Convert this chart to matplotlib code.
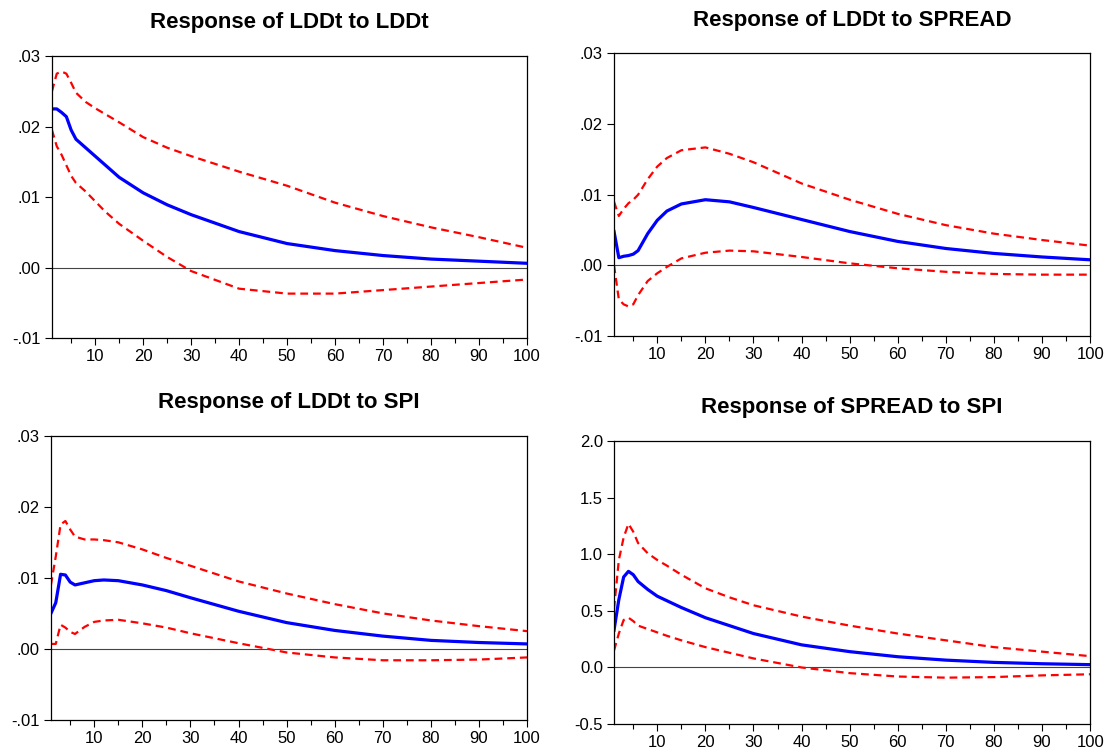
import numpy as np
import matplotlib.pyplot as plt
from matplotlib.ticker import FixedLocator, FuncFormatter

plt.rcParams['font.family'] = ['Liberation Sans', 'DejaVu Sans']

# periods used for the readings
per = [1, 2, 3, 4, 5, 6, 8, 10, 12, 15, 20, 25, 30, 40, 50, 60, 70, 80, 90, 100]

# Response of LDDt to LDDt
lddt_lddt = [0.0225, 0.0225, 0.0220, 0.0214, 0.0195, 0.0182, 0.0170, 0.0158, 0.0146, 0.0128, 0.0106, 0.0089, 0.0075, 0.0051, 0.0034, 0.0024, 0.0017, 0.0012, 0.0009, 0.0006]
lddt_lddt_hi = [0.0250, 0.0275, 0.0278, 0.0275, 0.0262, 0.0248, 0.0235, 0.0226, 0.0218, 0.0206, 0.0185, 0.0170, 0.0158, 0.0136, 0.0116, 0.0092, 0.0073, 0.0057, 0.0043, 0.0028]
lddt_lddt_lo = [0.0195, 0.0172, 0.0160, 0.0145, 0.0130, 0.0120, 0.0108, 0.0094, 0.0080, 0.0062, 0.0038, 0.0015, -0.0005, -0.0030, -0.0037, -0.0037, -0.0032, -0.0027, -0.0022, -0.0017]

# Response of LDDt to SPREAD
lddt_spread = [0.0048, 0.0011, 0.0013, 0.0014, 0.0016, 0.0021, 0.0045, 0.0064, 0.0077, 0.0087, 0.0093, 0.0090, 0.0082, 0.0065, 0.0048, 0.0034, 0.0024, 0.0017, 0.0012, 0.0008]
lddt_spread_hi = [0.0090, 0.0070, 0.0080, 0.0088, 0.0093, 0.0100, 0.0122, 0.0140, 0.0152, 0.0163, 0.0167, 0.0158, 0.0146, 0.0116, 0.0093, 0.0073, 0.0057, 0.0045, 0.0036, 0.0028]
lddt_spread_lo = [0.0000, -0.0048, -0.0055, -0.0058, -0.0055, -0.0042, -0.0022, -0.0011, -0.0002, 0.0010, 0.0018, 0.0021, 0.0020, 0.0012, 0.0003, -0.0004, -0.0009, -0.0012, -0.0013, -0.0013]

# Response of LDDt to SPI
lddt_spi = [0.0050, 0.0065, 0.0105, 0.0104, 0.0094, 0.0090, 0.0093, 0.0096, 0.0097, 0.0096, 0.0090, 0.0082, 0.0072, 0.0053, 0.0037, 0.0026, 0.0018, 0.0012, 0.0009, 0.0007]
lddt_spi_hi = [0.0090, 0.0130, 0.0175, 0.0180, 0.0168, 0.0158, 0.0154, 0.0154, 0.0153, 0.0150, 0.0140, 0.0128, 0.0117, 0.0095, 0.0078, 0.0063, 0.0050, 0.0040, 0.0032, 0.0025]
lddt_spi_lo = [0.0007, 0.0007, 0.0034, 0.0030, 0.0024, 0.0021, 0.0031, 0.0038, 0.0040, 0.0041, 0.0036, 0.0030, 0.0022, 0.0008, -0.0005, -0.0012, -0.0016, -0.0016, -0.0015, -0.0012]

# Response of SPREAD to SPI
spread_spi = [0.33, 0.60, 0.80, 0.85, 0.82, 0.76, 0.69, 0.63, 0.59, 0.53, 0.44, 0.37, 0.30, 0.20, 0.14, 0.095, 0.065, 0.045, 0.033, 0.025]
spread_spi_hi = [0.52, 0.95, 1.15, 1.27, 1.20, 1.10, 1.01, 0.95, 0.90, 0.82, 0.70, 0.62, 0.55, 0.45, 0.37, 0.30, 0.24, 0.18, 0.14, 0.10]
spread_spi_lo = [0.15, 0.30, 0.42, 0.44, 0.41, 0.37, 0.34, 0.31, 0.28, 0.24, 0.18, 0.13, 0.08, 0.00, -0.05, -0.08, -0.09, -0.085, -0.07, -0.06]

titles = ['Response of LDDt to LDDt', 'Response of LDDt to SPREAD',
          'Response of LDDt to SPI', 'Response of SPREAD to SPI']
panels = [(lddt_lddt, lddt_lddt_hi, lddt_lddt_lo),
          (lddt_spread, lddt_spread_hi, lddt_spread_lo),
          (lddt_spi, lddt_spi_hi, lddt_spi_lo),
          (spread_spi, spread_spi_hi, spread_spi_lo)]
yticks_small = [-0.01, 0.0, 0.01, 0.02, 0.03]
yticks_big = [-0.5, 0.0, 0.5, 1.0, 1.5, 2.0]

boxes = [[0.0466, 0.5505, 0.426, 0.375],
         [0.5507, 0.553, 0.427, 0.376],
         [0.0457, 0.0426, 0.427, 0.378],
         [0.5507, 0.0372, 0.427, 0.376]]


def dotfmt(v, pos):
    s = '%.2f' % v
    return s.replace('0.', '.', 1)


fig = plt.figure(figsize=(11.15, 7.52), dpi=100)
for i in range(4):
    ax = fig.add_axes(boxes[i])
    mid, hi, lo = panels[i]
    ax.axhline(0, color='#444444', lw=0.8, zorder=1)
    ax.plot(per, hi, color='#ff0000', lw=1.6, dashes=(3.5, 2.2))
    ax.plot(per, lo, color='#ff0000', lw=1.6, dashes=(3.5, 2.2))
    ax.plot(per, mid, color='#0000ff', lw=2.3)
    ax.set_xlim(1, 100)
    ax.xaxis.set_major_locator(FixedLocator(range(10, 101, 10)))
    ax.xaxis.set_minor_locator(FixedLocator(range(5, 100, 10)))
    if i < 3:
        ax.set_ylim(-0.01, 0.03)
        ax.set_yticks(yticks_small)
        ax.yaxis.set_major_formatter(FuncFormatter(dotfmt))
    else:
        ax.set_ylim(-0.5, 2.0)
        ax.set_yticks(yticks_big)
        ax.yaxis.set_major_formatter(FuncFormatter(lambda v, p: '%.1f' % v))
    ax.tick_params(which='major', direction='out', length=5, width=0.8, labelsize=12, pad=3)
    ax.tick_params(which='minor', direction='out', length=3.5, width=0.8)
    for s in ax.spines.values():
        s.set_linewidth(0.9)
    ax.set_title(titles[i], fontsize=16, fontweight='bold', pad=20)

fig.savefig('out.png', dpi=100)
